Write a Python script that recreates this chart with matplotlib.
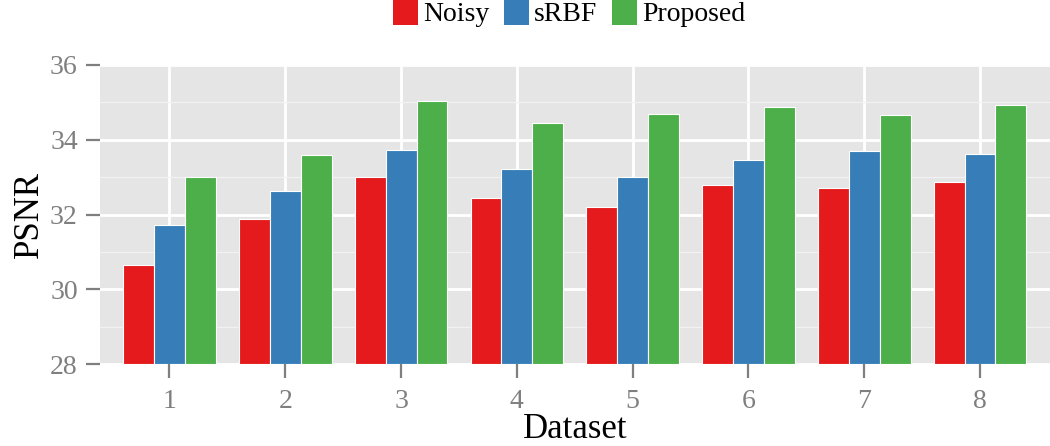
import numpy as np
from matplotlib import pyplot as plt
from matplotlib.patches import Patch
from matplotlib.ticker import MultipleLocator

# data
datasets = [1, 2, 3, 4, 5, 6, 7, 8]
methods = ["Noisy", "sRBF", "Proposed"]
noisy = [30.65, 31.87, 33.0, 32.45, 32.19, 32.80, 32.71, 32.86]
srbf = [31.72, 32.62, 33.72, 33.21, 33.0, 33.45, 33.70, 33.62]
proposed = [32.99, 33.59, 35.05, 34.44, 34.68, 34.87, 34.65, 34.92]

colors = ["#E41A1C", "#377EB8", "#4DAF4A"]
grey = "#7F7F7F"

plt.rcParams["font.family"] = ["Liberation Serif", "DejaVu Serif"]

fig = plt.figure(figsize=(10.5, 4.46), dpi=100)
ax = fig.add_axes([100/1050, (446-364)/446, 949.5/1050, 299/446])
ax.set_facecolor("#E5E5E5")

x = np.array(datasets, dtype=float)
w = 0.8 / 3
for i, (vals, c) in enumerate(zip([noisy, srbf, proposed], colors)):
    ax.bar(x + (i - 1) * w, np.array(vals) - 28, width=w, bottom=28,
           color=c, edgecolor="white", linewidth=0.8, zorder=3)

ax.set_xlim(0.4, 8.6)
ax.set_ylim(28, 36)
ax.set_xticks(datasets)
ax.set_xticklabels([str(d) for d in datasets])
ax.yaxis.set_major_locator(MultipleLocator(2))
ax.yaxis.set_minor_locator(MultipleLocator(1))

ax.grid(which="major", color="white", linewidth=2.0, zorder=1)
ax.grid(which="minor", axis="y", color="#F2F2F2", linewidth=0.9, zorder=1)
ax.tick_params(which="minor", length=0)
ax.tick_params(which="major", length=10, width=1.6, color=grey,
               labelcolor=grey, labelsize=20, pad=6)
ax.tick_params(axis="x", pad=8)
for s in ax.spines.values():
    s.set_visible(False)

ax.set_xlabel("Dataset", fontsize=25, labelpad=-1)
ax.set_ylabel("PSNR", fontsize=25, labelpad=3)

handles = [Patch(facecolor=c, edgecolor="none", label=m) for m, c in zip(methods, colors)]
fig.legend(handles=handles, loc="upper center", bbox_to_anchor=(0.542, 1.06),
           ncol=3, frameon=False, fontsize=20, handlelength=0.9, handleheight=1.1,
           handletextpad=0.2, columnspacing=0.5)

fig.savefig("out.png", dpi=100)
